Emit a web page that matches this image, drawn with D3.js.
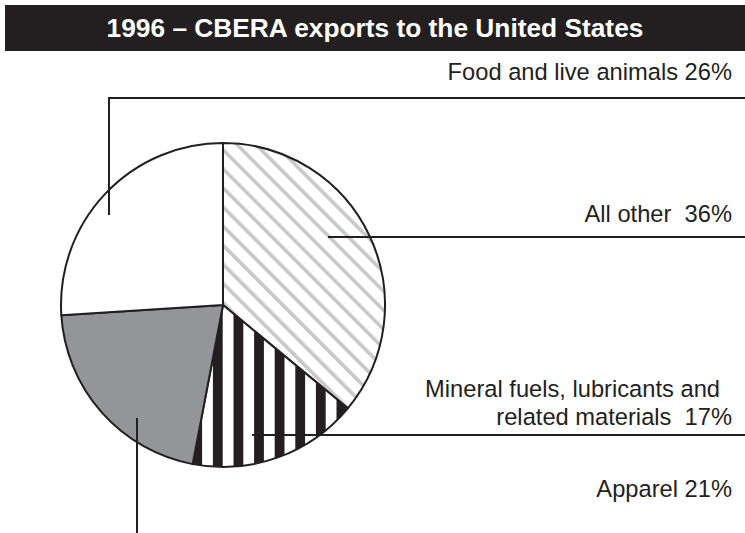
<!DOCTYPE html>
<html>
<head>
<meta charset="utf-8">
<script src="https://cdn.jsdelivr.net/npm/d3@7"></script>
<style>
  body { margin: 0; background: #fff; }
  svg { display: block; font-family: "Liberation Sans", Arial, sans-serif; }
</style>
</head>
<body>
<div id="chart"></div>
<script>
// data
const categories = ["All other", "Mineral fuels, lubricants and related materials", "Apparel", "Food and live animals"];
const shares = [36, 17, 21, 26];
const labelLines = [
    ["All other  36%"],
    ["Mineral fuels, lubricants and", "related materials  17%"],
    ["Apparel 21%"],
    ["Food and live animals 26%"]
];
const title = "1996 \u2013 CBERA exports to the United States";

const width = 745, height = 533;
const ink = "#231f20";
const cx = 223, cy = 305, radius = 162;

const svg = d3.select("#chart").append("svg")
    .attr("width", width)
    .attr("height", height);

const defs = svg.append("defs");

// light grey diagonal hatch
const diag = defs.append("pattern")
    .attr("id", "diag")
    .attr("patternUnits", "userSpaceOnUse")
    .attr("width", 13.5).attr("height", 13.5)
    .attr("patternTransform", "rotate(-45)");
diag.append("rect").attr("width", 13.5).attr("height", 13.5).attr("fill", "#fff");
diag.append("rect").attr("width", 3.6).attr("height", 13.5).attr("fill", "#c8c8c8");

// black vertical stripes
const stripes = defs.append("pattern")
    .attr("id", "stripes")
    .attr("patternUnits", "userSpaceOnUse")
    .attr("x", 216.5)
    .attr("width", 20.6).attr("height", 20);
stripes.append("rect").attr("width", 20.6).attr("height", 20).attr("fill", "#fff");
stripes.append("rect").attr("width", 9.8).attr("height", 20).attr("fill", ink);

const fills = ["url(#diag)", "url(#stripes)", "#939598", "#fff"];

// title bar
svg.append("rect")
    .attr("x", 5).attr("y", 5)
    .attr("width", width - 5).attr("height", 46)
    .attr("fill", ink);
svg.append("text")
    .attr("x", 375).attr("y", 37)
    .attr("text-anchor", "middle")
    .attr("fill", "#fff")
    .style("font-size", "26.3px")
    .style("font-weight", "bold")
    .text(title);

// pie
const pie = d3.pie().value(d => d).sort(null);
const arc = d3.arc().innerRadius(0).outerRadius(radius);

const g = svg.append("g").attr("transform", `translate(${cx},${cy})`);

g.selectAll("path")
    .data(pie(shares))
    .enter()
    .append("path")
    .attr("d", arc)
    .attr("fill", (d, i) => fills[i])
    .attr("stroke", ink)
    .attr("stroke-width", 2)
    .attr("stroke-linejoin", "round");

// leader lines (polyline points) and label positions
const leaders = [
    [[328, 237], [745, 237]],
    [[252, 435], [745, 435]],
    [[137, 418], [137, 533]],
    [[109, 215], [109, 98], [745, 98]]
];
const labelY = [222, 397, 497, 80];
const lineRight = [[732], [720, 732], [732], [732]];

svg.selectAll(".leader")
    .data(leaders)
    .enter()
    .append("path")
    .attr("class", "leader")
    .attr("d", d => d3.line()(d))
    .attr("fill", "none")
    .attr("stroke", ink)
    .attr("stroke-width", 2);

labelLines.forEach((lines, i) => {
    const t = svg.append("text")
        .attr("y", labelY[i])
        .attr("text-anchor", "end")
        .attr("fill", ink)
        .style("font-size", "23.7px")
        .style("white-space", "pre");
    lines.forEach((line, j) => {
        t.append("tspan")
            .attr("x", lineRight[i][j])
            .attr("dy", j === 0 ? 0 : 28)
            .text(line);
    });
});
</script>
</body>
</html>
